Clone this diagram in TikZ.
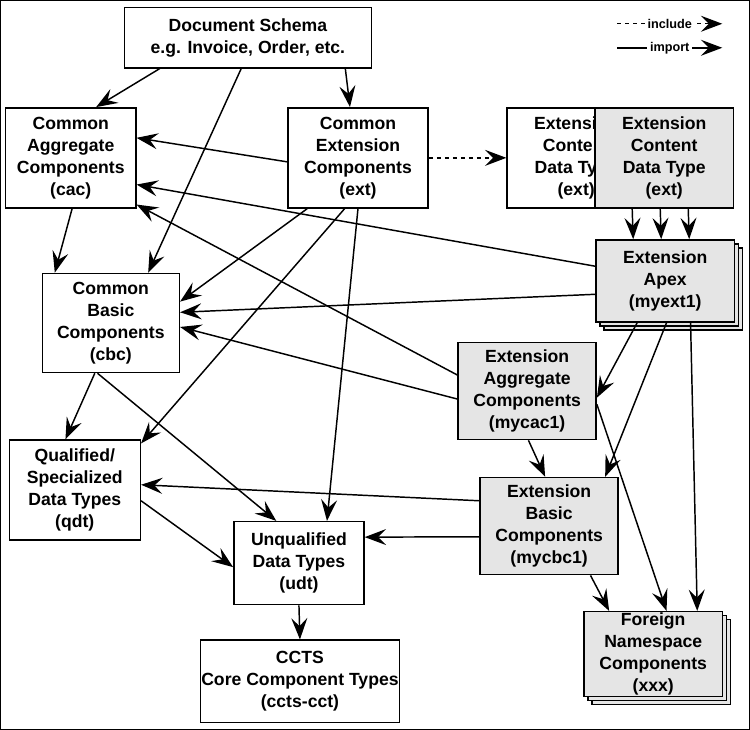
\documentclass[tikz,border=0pt]{standalone}
\usepackage{fontspec}
\setmainfont{Liberation Sans}
\usetikzlibrary{arrows.meta,shadows}

\begin{document}
\begin{tikzpicture}[x=0.75pt,y=-0.75pt,line width=1.1pt,
    box/.style={draw,align=center,font=\bfseries\fontsize{13.2}{16.5}\selectfont,
      minimum width=#1*0.75pt,inner sep=0pt},
    box/.default=138,
    ext/.style={box,fill=gray!20},
    stacked/.style={ext,double copy shadow={shadow xshift=3pt,shadow yshift=-3pt}},
    imp/.style={-{Stealth[length=16pt,width=12pt,inset=6pt]}},
    inc/.style={imp,dashed},
    legend/.style={fill=white,inner sep=2pt,font=\bfseries\fontsize{9.5}{11}\selectfont}]
      \draw (1,1) rectangle (749,729);
      % schemas
      \node[box=247,minimum height=60*0.75pt] (doc) at (248,38) {Document Schema\\e.g. Invoice, Order, etc.};
      \node[box=130,minimum height=100*0.75pt] (cac) at (71,158) {Common\\Aggregate\\Components\\(cac)};
      \node[box=140,minimum height=100*0.75pt] (ext) at (358,158) {Common\\Extension\\Components\\(ext)};
      \node[box,minimum height=100*0.75pt] (ecdt0) at (576,158) {Extension\\Content\\Data Type\\(ext)};
      \node[ext,minimum height=100*0.75pt] (ecdt) at (664,158) {Extension\\Content\\Data Type\\(ext)};
      \node[stacked=136,minimum height=82*0.75pt] (apex) at (665,281) {Extension\\Apex\\(myext1)};
      \node[box=137,minimum height=99*0.75pt] (cbc) at (111,323) {Common\\Basic\\Components\\(cbc)};
      \node[ext=139,minimum height=97*0.75pt] (mycac) at (527,391) {Extension\\Aggregate\\Components\\(mycac1)};
      \node[box=131,minimum height=100*0.75pt] (qdt) at (75,490) {Qualified/\\Specialized\\Data Types\\(qdt)};
      \node[ext=136,minimum height=97*0.75pt] (mycbc) at (549,526) {Extension\\Basic\\Components\\(mycbc1)};
      \node[box=130,minimum height=83*0.75pt] (udt) at (299,563) {Unqualified\\Data Types\\(udt)};
      \node[box=199,minimum height=82*0.75pt] (ccts) at (300,681) {CCTS\\Core Component Types\\(ccts-cct)};
      \node[stacked,minimum height=85*0.75pt] (xxx) at (653,654) {Foreign\\Namespace\\Components\\(xxx)};
      % legend
      \coordinate (incA) at (617,24); \coordinate (incB) at (722,24);
      \coordinate (impA) at (617,48); \coordinate (impB) at (722,48);
      \draw[inc] (incA) -- node[legend] {include} (incB);
      \draw[imp] (impA) -- node[legend] {import} (impB);
      % imports
      \draw[imp] ([xshift=-66pt]doc.south) -- ([xshift=19pt]cac.north);
      \draw[imp] ([xshift=-5pt]doc.south) -- ([xshift=28pt]cbc.north);
      \draw[imp] ([xshift=73pt]doc.south) -- ([xshift=-6pt]ext.north);
      \draw[imp] ([yshift=-3pt]ext.west) -- ([yshift=15pt]cac.east);
      \draw[inc] (ext.east) -- (ecdt0.west);
      \foreach \dx in {-24,-3,18}
        \draw[imp] ([xshift=\dx pt]ecdt.south) -- ([xshift=\dx pt]apex.north);
      \draw[imp] ([xshift=1pt]cac.south) -- ([xshift=-12pt]cac.south |- cbc.north);
      \draw[imp] ([xshift=-38pt]ext.south) -- ([yshift=16pt]cbc.east);
      \draw[imp] ([xshift=-10pt]ext.south) -- ([yshift=35pt]qdt.east);
      \draw[imp] ([xshift=0pt]ext.south) -- ([xshift=21pt]udt.north);
      \draw[imp] ([yshift=11pt]apex.west) -- ([yshift=-20pt]cac.east);
      \draw[imp] ([yshift=-10pt]apex.west) -- ([yshift=8pt]cbc.east);
      \draw[imp] ([yshift=12pt]mycac.west) -- ([yshift=-35pt]cac.east);
      \draw[imp] ([yshift=-6pt]mycac.west) -- ([yshift=-3pt]cbc.east);
      \draw[imp] ([xshift=-10pt]cbc.south) -- ([xshift=-17pt]udt.north);
      \draw[imp] ([xshift=-12pt]cbc.south) -- ([xshift=-7pt]qdt.north);
      \draw[imp] ([yshift=19pt]mycbc.west) -- ([yshift=4pt]qdt.east);
      \draw[imp] ([yshift=-8pt]mycbc.west) -- ([yshift=19.5pt]udt.east);
      \draw[imp] ([yshift=-8pt]qdt.east) -- ([yshift=-3pt]udt.west);
      \draw[imp] (udt.south) -- (ccts.north);
      \draw[imp] ([xshift=-21pt]apex.south) -- ([yshift=-5pt]mycac.east);
      \draw[imp] ([xshift=1pt]apex.south) -- ([xshift=42pt]mycbc.north);
      \draw[imp] ([xshift=19pt]apex.south) -- ([xshift=33pt]xxx.north);
      \draw[imp] ([yshift=-10pt]mycac.east) -- ([xshift=10pt]xxx.north);
      \draw[imp] ([xshift=1pt]mycac.south) -- ([xshift=-3pt]mycbc.north);
      \draw[imp] ([xshift=31pt]mycbc.south) -- ([xshift=-33pt]xxx.north);
\end{tikzpicture}
\end{document}
